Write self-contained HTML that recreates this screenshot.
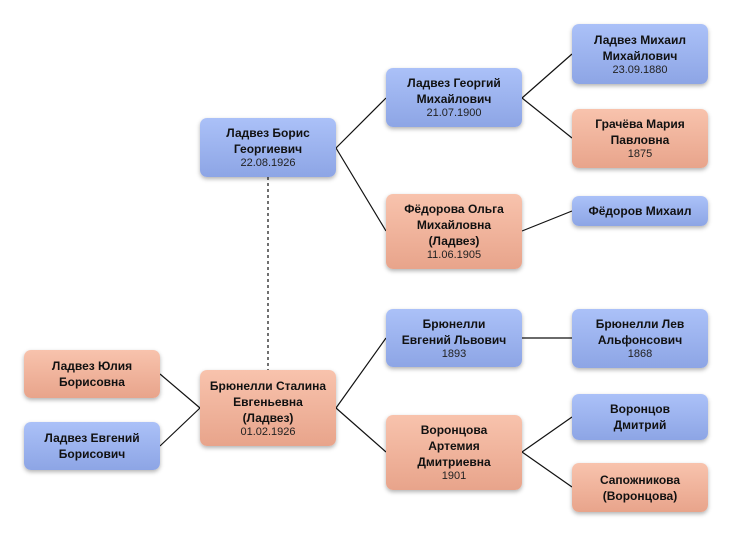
<!DOCTYPE html>
<html><head><meta charset="utf-8"><style>
body{margin:0;width:732px;height:538px;background:#fff;position:relative;overflow:hidden;font-family:"Liberation Sans",sans-serif}
.n{position:absolute;width:136px;box-sizing:border-box;border-radius:7px;display:flex;flex-direction:column;justify-content:center;align-items:center;text-align:center;color:#111;font-size:12px;font-weight:bold;line-height:16px;box-shadow:0 2px 4px rgba(0,0,0,0.3)}
.b{background:linear-gradient(#abc1f8,#8da5e5)}
.p{background:linear-gradient(#f8c3ad,#e8a48b)}
.d{font-weight:normal;font-size:11px;line-height:13px;color:#222}
svg{position:absolute;left:0;top:0}
</style></head><body>
<svg width="732" height="538">
<g stroke="#111" stroke-width="1.2" fill="none">
<path d="M336 148L386 98M336 148L386 231M522 98L572 54M522 98L572 138M522 231L572 211M336 408L386 338M336 408L386 452M522 338L572 338M522 452L572 417M522 452L572 487M160 374L200 408M160 446L200 408"/>
<path d="M268 177V370" stroke-dasharray="3,3"/>
</g></svg>
<div class="n b" style="left:200px;top:118px;height:59px">Ладвез Борис<br>Георгиевич<span class="d">22.08.1926</span></div>
<div class="n b" style="left:386px;top:68px;height:59px">Ладвез Георгий<br>Михайлович<span class="d">21.07.1900</span></div>
<div class="n p" style="left:386px;top:194px;height:75px">Фёдорова Ольга<br>Михайловна<br>(Ладвез)<span class="d">11.06.1905</span></div>
<div class="n b" style="left:572px;top:24px;height:60px">Ладвез Михаил<br>Михайлович<span class="d">23.09.1880</span></div>
<div class="n p" style="left:572px;top:109px;height:59px">Грачёва Мария<br>Павловна<span class="d">1875</span></div>
<div class="n b" style="left:572px;top:196px;height:30px">Фёдоров Михаил</div>
<div class="n p" style="left:200px;top:370px;height:76px">Брюнелли Сталина<br>Евгеньевна<br>(Ладвез)<span class="d">01.02.1926</span></div>
<div class="n b" style="left:386px;top:309px;height:58px">Брюнелли<br>Евгений Львович<span class="d">1893</span></div>
<div class="n p" style="left:386px;top:415px;height:75px">Воронцова<br>Артемия<br>Дмитриевна<span class="d">1901</span></div>
<div class="n b" style="left:572px;top:309px;height:59px">Брюнелли Лев<br>Альфонсович<span class="d">1868</span></div>
<div class="n b" style="left:572px;top:394px;height:46px">Воронцов<br>Дмитрий</div>
<div class="n p" style="left:572px;top:463px;height:49px">Сапожникова<br>(Воронцова)</div>
<div class="n p" style="left:24px;top:350px;height:48px">Ладвез Юлия<br>Борисовна</div>
<div class="n b" style="left:24px;top:422px;height:48px">Ладвез Евгений<br>Борисович</div>
</body></html>
